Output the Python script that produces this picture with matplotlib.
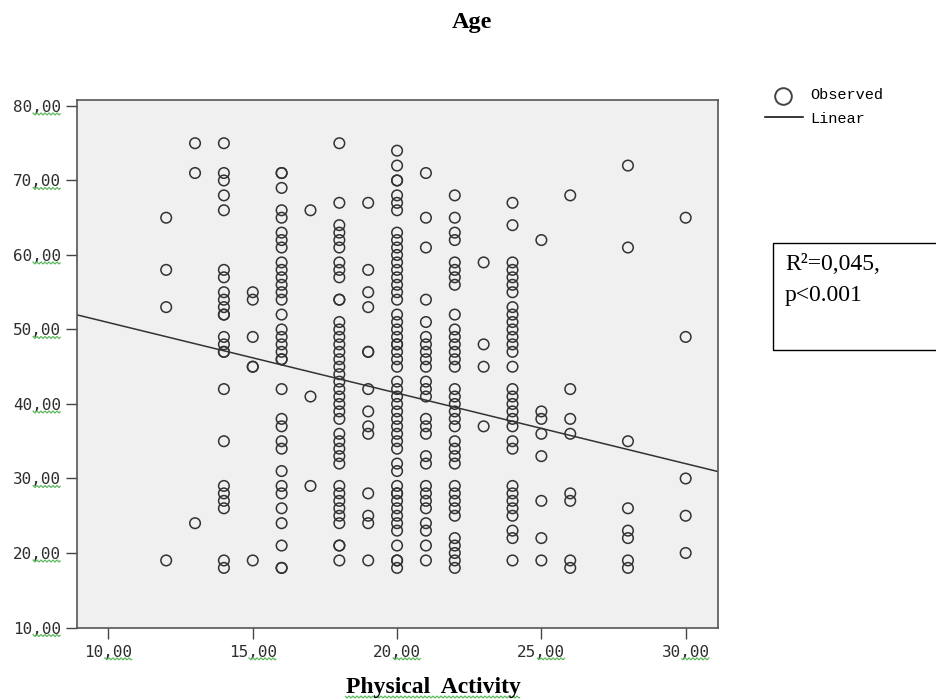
import matplotlib
matplotlib.use("Agg")
import matplotlib.pyplot as plt
from matplotlib.transforms import IdentityTransform
import numpy as np

# physical activity score -> ages observed at that score
activity = [12, 13, 14, 15, 16, 17, 18, 19, 20, 21, 22, 23, 24, 25, 26, 28, 30]
ages = [
    [65, 58, 53, 19],
    [75, 71, 24],
    [75, 71, 70, 68, 66, 58, 57, 55, 54, 53, 52, 52, 49, 48, 47, 47, 42, 35, 29, 28, 27, 26, 19, 18],
    [55, 54, 49, 45, 45, 19],
    [71, 71, 69, 66, 65, 63, 62, 61, 59, 58, 57, 56, 55, 54, 52, 50, 49, 48, 47, 46, 46,
     42, 38, 37, 35, 34, 31, 29, 28, 26, 24, 21, 18, 18],
    [66, 41, 29],
    [75, 67, 64, 63, 62, 61, 59, 58, 57, 54, 54, 51, 50, 49, 48, 47, 46, 45, 44, 43, 42, 41,
     40, 39, 38, 36, 35, 34, 33, 32, 29, 28, 27, 26, 25, 24, 21, 21, 19],
    [67, 58, 55, 53, 47, 47, 42, 39, 37, 36, 28, 25, 24, 19],
    [74, 72, 70, 70, 68, 67, 66, 63, 62, 61, 60, 59, 58, 57, 56, 55, 54, 52, 51, 50, 49, 48,
     48, 47, 46, 45, 43, 42, 41, 40, 39, 38, 37, 36, 35, 34, 32, 31, 29, 28, 28, 27, 26,
     25, 24, 23, 21, 19, 19, 18],
    [71, 65, 61, 54, 51, 49, 48, 47, 46, 45, 43, 42, 41, 38, 37, 36, 33, 32, 29, 28, 27,
     26, 24, 23, 21, 19],
    [68, 65, 63, 62, 59, 58, 57, 56, 52, 50, 49, 48, 47, 46, 45, 42, 41, 40, 39, 38, 37,
     35, 34, 33, 32, 29, 28, 27, 26, 25, 22, 21, 20, 19, 18],
    [59, 48, 45, 37],
    [67, 64, 59, 58, 57, 56, 55, 53, 52, 51, 50, 49, 48, 47, 45, 42, 41, 40, 39, 38, 37,
     35, 34, 29, 28, 27, 26, 25, 23, 22, 19],
    [62, 39, 38, 36, 33, 27, 22, 19],
    [68, 42, 38, 36, 28, 27, 19, 18],
    [72, 61, 35, 26, 23, 22, 19, 18],
    [65, 49, 30, 25, 20],
]

# fitted linear model
fit_intercept = 60.4
fit_slope = -0.947

xtick_vals = [10, 15, 20, 25, 30]
ytick_vals = [10, 20, 30, 40, 50, 60, 70, 80]

xs = []
ys = []
for a, col in zip(activity, ages):
    xs += [a] * len(col)
    ys += col

W, H = 937, 699
fig = plt.figure(figsize=(W / 100, H / 100), dpi=100)
ax = fig.add_axes([77 / W, (H - 627.5) / H, 641 / W, 527.5 / H])
ax.set_facecolor("#f0f0f0")

ax.scatter(xs, ys, s=58, facecolors="none", edgecolors="#333333", linewidths=1.1, zorder=3)

xlim = (8.91, 31.12)
xl = np.array(xlim)
ax.plot(xl, fit_intercept + fit_slope * xl, color="#333333", lw=1.1, zorder=2)

ax.set_xlim(*xlim)
ax.set_ylim(10, 80.8)
ax.set_xticks(xtick_vals)
ax.set_yticks(ytick_vals)
ax.set_xticklabels([f"{v},00" for v in xtick_vals])
ax.set_yticklabels([f"{v},00" for v in ytick_vals])
for lab in ax.get_xticklabels() + ax.get_yticklabels():
    lab.set_family("DejaVu Sans Mono")
    lab.set_fontsize(11.5)
    lab.set_color("#2e2e2e")
ax.tick_params(axis="both", length=8, width=1.0, color="#444444", direction="out")
ax.tick_params(axis="x", pad=4.5)
ax.tick_params(axis="y", pad=3.5)
for sp in ax.spines.values():
    sp.set_color("#555555")
    sp.set_linewidth(1.2)

fig.text(472 / W, 1 - 28 / H, "Age", ha="center", va="baseline",
         family="Liberation Serif", fontweight="bold", fontsize=17.5)
xlab = fig.text(433 / W, 1 - 693 / H, "Physical  Activity", ha="center", va="baseline",
                family="Liberation Serif", fontweight="bold", fontsize=17)

# legend
fig.lines.append(plt.Line2D([783 / W], [1 - 95.5 / H], marker="o", ms=12, mfc="none",
                            mec="#444444", mew=1.4, transform=fig.transFigure))
fig.text(810 / W, 1 - 95 / H, "Observed", va="center", family="Liberation Mono", fontsize=11)
fig.lines.append(plt.Line2D([765 / W, 803 / W], [1 - 116.5 / H] * 2, color="black",
                            lw=1.1, transform=fig.transFigure))
fig.text(810 / W, 1 - 119 / H, "Linear", va="center", family="Liberation Mono", fontsize=11)

# annotation box
fig.patches.append(plt.Rectangle((773 / W, 1 - 350 / H), 180 / W, 107 / H,
                                 fill=False, ec="black", lw=1.0, transform=fig.transFigure))
fig.text(785 / W, 1 - 265 / H, "R²=0,045,", va="center", family="Liberation Serif", fontsize=17)
fig.text(785 / W, 1 - 295 / H, "p<0.001", va="center", family="Liberation Serif", fontsize=17)


# green wavy spell-check underlines from the source document
def wavy(x0, x1, y, color="#5fb85f"):
    px = np.arange(x0, x1, 1.0)
    py = y + 1.0 * np.sin(px * np.pi / 2.0)
    fig.lines.append(plt.Line2D(px, py, color=color, lw=0.9, transform=IdentityTransform()))


fig.canvas.draw()
r = fig.canvas.get_renderer()
for lab in ax.get_xticklabels() + ax.get_yticklabels():
    bb = lab.get_window_extent(r)
    wavy(bb.x0 + 0.42 * bb.width, bb.x1, bb.y0 + 1)
bb = xlab.get_window_extent(r)
wavy(bb.x0, bb.x1, bb.y0 + 1)

fig.savefig("out.png", dpi=100, facecolor="white")
